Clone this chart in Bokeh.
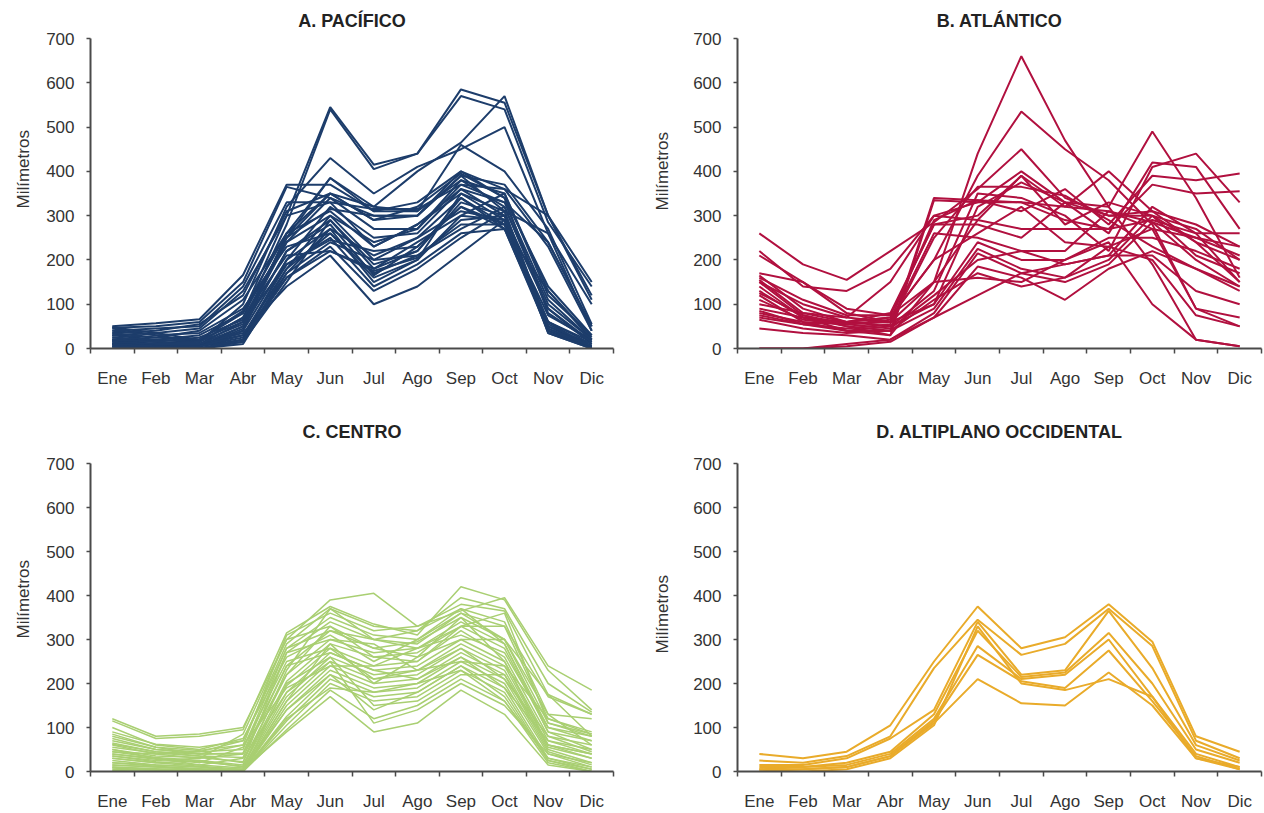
from bokeh.plotting import figure
from bokeh.models import Range1d, FixedTicker, Title
from bokeh.layouts import column, row
from bokeh.embed import file_html
from bokeh.resources import INLINE

months = ["Ene", "Feb", "Mar", "Abr", "May", "Jun", "Jul", "Ago", "Sep", "Oct", "Nov", "Dic"]
month_num = list(range(1, 13))
y_ticks = [0, 100, 200, 300, 400, 500, 600, 700]

titles = ["A. PACÍFICO", "B. ATLÁNTICO", "C. CENTRO", "D. ALTIPLANO OCCIDENTAL"]
y_label = "Milímetros"

pacifico = [
    [48, 35, 20, 80, 300, 545, 415, 440, 585, 555, 300, 150],
    [45, 30, 15, 70, 280, 540, 405, 440, 570, 540, 285, 140],
    [25, 15, 10, 60, 250, 385, 320, 400, 465, 570, 300, 120],
    [30, 20, 15, 100, 320, 430, 350, 410, 450, 500, 260, 100],
    [50, 57, 66, 166, 370, 370, 310, 310, 460, 400, 270, 55],
    [47, 50, 60, 150, 365, 340, 300, 300, 390, 370, 240, 50],
    [10, 5, 5, 40, 260, 385, 310, 330, 400, 360, 230, 40],
    [35, 40, 55, 120, 310, 350, 290, 320, 395, 340, 140, 30],
    [20, 10, 5, 50, 250, 350, 320, 310, 380, 350, 130, 20],
    [15, 20, 30, 80, 240, 340, 270, 270, 370, 330, 110, 20],
    [5, 0, 0, 20, 200, 320, 250, 260, 360, 300, 90, 10],
    [30, 25, 40, 110, 260, 310, 230, 280, 350, 290, 60, 15],
    [10, 5, 10, 30, 180, 300, 200, 250, 340, 280, 50, 5],
    [0, 0, 0, 15, 150, 290, 180, 220, 330, 300, 40, 0],
    [20, 15, 5, 45, 220, 280, 165, 230, 320, 270, 45, 5],
    [5, 5, 5, 25, 170, 270, 150, 200, 300, 290, 35, 0],
    [40, 30, 35, 90, 230, 260, 170, 210, 280, 280, 75, 20],
    [10, 10, 20, 60, 190, 250, 140, 190, 260, 270, 40, 5],
    [0, 0, 5, 20, 160, 230, 130, 180, 250, 310, 50, 10],
    [15, 5, 10, 35, 140, 210, 100, 140, 215, 290, 60, 0],
    [25, 20, 15, 70, 210, 220, 180, 240, 300, 350, 120, 30],
    [5, 0, 0, 10, 170, 240, 200, 210, 270, 320, 90, 15],
    [30, 35, 45, 130, 300, 330, 230, 280, 360, 330, 240, 50],
    [10, 10, 15, 55, 240, 300, 240, 270, 380, 320, 100, 20],
    [35, 25, 20, 85, 260, 350, 290, 300, 390, 310, 260, 40],
    [20, 15, 5, 40, 200, 270, 210, 250, 310, 290, 55, 5],
    [0, 0, 0, 15, 180, 260, 160, 200, 350, 310, 45, 5],
    [15, 10, 10, 50, 220, 290, 190, 220, 340, 270, 130, 25],
    [5, 5, 5, 30, 190, 245, 220, 230, 320, 280, 60, 10],
    [40, 45, 50, 140, 330, 330, 315, 315, 370, 360, 300, 110],
    [20, 15, 25, 65, 250, 315, 300, 300, 400, 340, 80, 15],
    [10, 5, 0, 20, 160, 220, 175, 205, 290, 300, 35, 0],
]

atlantico = [
    [150, 100, 70, 60, 150, 440, 660, 470, 320, 190, 20, 5],
    [165, 90, 60, 70, 200, 390, 535, 450, 380, 280, 90, 50],
    [260, 190, 155, 220, 285, 360, 450, 340, 300, 310, 240, 150],
    [220, 140, 130, 180, 300, 330, 400, 330, 320, 490, 340, 160],
    [210, 150, 90, 75, 280, 300, 390, 320, 400, 310, 280, 230],
    [170, 150, 80, 60, 100, 320, 375, 330, 260, 420, 410, 270],
    [155, 80, 60, 50, 130, 350, 340, 300, 220, 410, 440, 330],
    [140, 70, 50, 40, 340, 335, 310, 360, 280, 390, 380, 395],
    [120, 60, 40, 30, 335, 330, 330, 290, 270, 370, 350, 355],
    [100, 80, 70, 150, 300, 290, 270, 270, 270, 290, 260, 260],
    [90, 70, 60, 80, 280, 280, 250, 330, 300, 300, 270, 200],
    [80, 60, 55, 60, 260, 250, 220, 220, 310, 270, 250, 210],
    [70, 55, 40, 50, 100, 240, 200, 200, 250, 250, 220, 180],
    [65, 45, 35, 40, 90, 225, 180, 160, 200, 300, 210, 170],
    [45, 35, 30, 20, 80, 215, 170, 150, 190, 285, 200, 140],
    [0, 0, 5, 15, 70, 185, 160, 110, 180, 220, 180, 130],
    [0, 0, 10, 20, 70, 120, 170, 190, 210, 210, 130, 100],
    [150, 75, 50, 30, 150, 160, 150, 200, 240, 100, 20, 5],
    [130, 70, 40, 40, 110, 170, 140, 160, 230, 270, 90, 70],
    [85, 55, 60, 70, 200, 260, 320, 240, 230, 200, 75, 50],
    [110, 65, 55, 45, 120, 200, 220, 190, 210, 320, 260, 150],
    [160, 110, 75, 75, 150, 290, 390, 280, 330, 300, 240, 200],
    [75, 55, 45, 55, 250, 365, 365, 345, 290, 230, 180, 140],
    [125, 75, 55, 65, 290, 335, 330, 320, 310, 285, 250, 230],
]

centro = [
    [120, 80, 85, 100, 300, 390, 405, 330, 365, 395, 240, 185],
    [115, 75, 80, 95, 315, 375, 335, 310, 420, 390, 230, 140],
    [90, 62, 55, 70, 290, 370, 330, 320, 395, 370, 200, 135],
    [80, 55, 48, 60, 310, 360, 320, 330, 380, 365, 175, 130],
    [70, 50, 45, 50, 280, 350, 310, 300, 370, 340, 130, 120],
    [62, 45, 40, 42, 270, 340, 300, 290, 360, 330, 120, 90],
    [55, 42, 35, 32, 240, 320, 280, 295, 350, 300, 110, 85],
    [50, 35, 32, 22, 220, 300, 270, 280, 340, 290, 100, 80],
    [45, 32, 25, 15, 205, 290, 260, 270, 330, 280, 90, 70],
    [40, 28, 22, 12, 195, 280, 240, 250, 320, 260, 80, 60],
    [35, 22, 15, 8, 180, 270, 230, 240, 300, 250, 70, 50],
    [30, 20, 12, 5, 170, 260, 220, 230, 290, 240, 60, 40],
    [25, 15, 10, 2, 160, 250, 210, 220, 280, 230, 55, 30],
    [20, 12, 6, 0, 150, 240, 200, 210, 270, 220, 50, 20],
    [15, 10, 5, 0, 140, 230, 190, 200, 260, 210, 45, 15],
    [10, 6, 2, 0, 125, 220, 180, 190, 250, 200, 40, 10],
    [5, 4, 0, 0, 115, 210, 170, 180, 240, 190, 30, 5],
    [0, 0, 0, 0, 105, 200, 160, 170, 230, 180, 25, 0],
    [2, 0, 0, 0, 95, 185, 120, 150, 210, 160, 20, 0],
    [8, 3, 0, 5, 90, 170, 90, 110, 185, 130, 15, 0],
    [60, 40, 30, 85, 300, 330, 280, 260, 300, 300, 175, 80],
    [100, 60, 50, 75, 260, 310, 250, 300, 360, 300, 130, 60],
    [30, 20, 25, 10, 230, 370, 300, 320, 370, 290, 90, 50],
    [40, 30, 20, 55, 250, 280, 210, 230, 250, 240, 120, 85],
    [20, 15, 10, 0, 200, 260, 150, 160, 220, 220, 60, 30],
    [75, 50, 40, 60, 190, 240, 240, 280, 310, 270, 100, 70],
    [50, 30, 15, 30, 180, 250, 110, 140, 200, 150, 40, 20],
    [35, 25, 30, 40, 220, 330, 260, 250, 330, 360, 110, 80],
    [10, 5, 5, 0, 160, 290, 200, 260, 350, 250, 60, 40],
    [65, 45, 35, 20, 270, 300, 290, 230, 280, 210, 80, 45],
    [0, 0, 0, 0, 120, 190, 180, 200, 230, 160, 30, 10],
    [45, 40, 45, 70, 280, 320, 300, 280, 330, 330, 170, 130],
    [85, 55, 40, 40, 240, 270, 230, 210, 260, 190, 70, 40],
    [15, 10, 5, 5, 140, 220, 140, 180, 240, 170, 25, 5],
]

altiplano = [
    [40, 30, 45, 105, 250, 375, 280, 305, 380, 295, 80, 45],
    [25, 20, 35, 80, 235, 345, 265, 290, 370, 285, 70, 30],
    [15, 15, 30, 75, 140, 340, 220, 230, 365, 235, 60, 25],
    [10, 10, 20, 45, 130, 320, 215, 225, 315, 200, 50, 20],
    [5, 10, 15, 40, 120, 285, 210, 220, 300, 170, 40, 10],
    [5, 5, 10, 35, 115, 265, 205, 190, 275, 160, 35, 5],
    [0, 5, 10, 35, 110, 210, 155, 150, 225, 150, 30, 5],
    [0, 0, 5, 30, 105, 330, 200, 185, 210, 170, 30, 10],
]

colors = ["#1d3d6b", "#b1103f", "#a9cf72", "#e9ab2a"]
widths = [2, 2, 1.5, 2]
FONT = "Liberation Sans"
AXIS = "#4a4a4a"
TXT = "#333333"


def make(title, series, color, lw, height, left, right, top, bottom,
         title_standoff, ylab_offset, ylab_standoff):
    p = figure(width=632, height=height,
               x_range=Range1d(0.5, 12.5), y_range=Range1d(0, 700),
               output_backend="svg", toolbar_location=None,
               min_border_left=left, min_border_right=right,
               min_border_top=top, min_border_bottom=bottom,
               background_fill_color="white", border_fill_color="white")
    p.outline_line_color = None
    p.xgrid.visible = False
    p.ygrid.visible = False
    p.multi_line(xs=[month_num] * len(series), ys=series,
                 line_color=color, line_width=lw)

    p.title.text = title
    p.title.align = "center"
    p.title.text_font = FONT
    p.title.text_font_size = "18px"
    p.title.text_font_style = "bold"
    p.title.text_color = "#222222"
    p.title.standoff = title_standoff

    xa = p.xaxis[0]
    xa.ticker = FixedTicker(ticks=month_num,
                            minor_ticks=[m - 0.5 for m in month_num] + [12.5])
    xa.major_label_overrides = {m: lab for m, lab in zip(month_num, months)}
    xa.major_tick_out = 0
    xa.major_tick_in = 0
    xa.minor_tick_out = 5
    xa.minor_tick_in = 0
    xa.minor_tick_line_color = AXIS
    xa.minor_tick_line_width = 1.5
    xa.major_label_standoff = 15
    xa.major_label_text_font = FONT
    xa.major_label_text_font_size = "17px"
    xa.major_label_text_color = TXT

    ya = p.yaxis[0]
    ya.ticker = FixedTicker(ticks=y_ticks, minor_ticks=[])
    ya.major_tick_out = 4
    ya.major_tick_in = 0
    ya.major_tick_line_color = AXIS
    ya.major_tick_line_width = 1.5
    ya.minor_tick_out = 0
    ya.minor_tick_in = 0
    ya.major_label_standoff = 12
    ya.major_label_text_font = FONT
    ya.major_label_text_font_size = "17px"
    ya.major_label_text_color = TXT

    for ax in (xa, ya):
        ax.axis_line_color = AXIS
        ax.axis_line_width = 2

    yl = Title(text=y_label, align="left", offset=ylab_offset,
               text_font=FONT, text_font_size="17px",
               text_font_style="normal", text_color=TXT,
               standoff=ylab_standoff)
    p.add_layout(yl, "left")
    return p


pA = make(titles[0], pacifico, colors[0], widths[0], 390, 89, 19, 38, 42, 16, 140, 22)
pB = make(titles[1], atlantico, colors[1], widths[1], 390, 105, 3, 38, 42, 16, 138, 37)
pC = make(titles[2], centro, colors[2], widths[2], 423, 89, 19, 73, 40, 44, 133, 22)
pD = make(titles[3], altiplano, colors[3], widths[3], 423, 105, 3, 73, 40, 44, 118, 37)

layout = column(row(pA, pB), row(pC, pD))
open("out.html", "w").write(file_html(layout, INLINE))
